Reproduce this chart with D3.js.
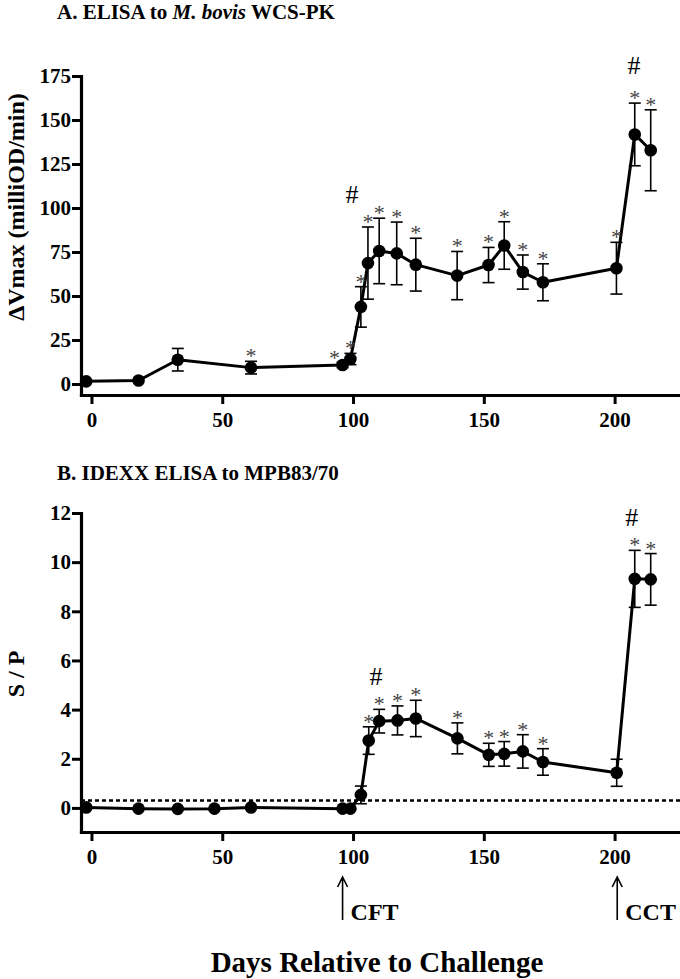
<!DOCTYPE html>
<html>
<head>
<meta charset="utf-8">
<script src="https://cdn.jsdelivr.net/npm/d3@7"></script>
<style>
  body { margin: 0; background: #fff; }
  svg { display: block; font-family: "Liberation Serif", "Times New Roman", serif; }
</style>
</head>
<body>
<div id="chart"></div>
<script>
// days of sampling, panel A (ELISA to M. bovis WCS-PK)
var daysA = [-2, 18, 33, 61, 96, 99, 103, 105.7, 110, 116.7, 124, 139.8, 151.8, 157.8, 164.9, 172.6, 200.7, 207.7, 213.8];
var valuesA = [1.5, 2, 13.8, 9.3, 10.8, 14.2, 43.8, 68.7, 75.6, 74.2, 67.8, 61.6, 67.6, 78.7, 63.6, 57.8, 65.8, 141.8, 132.8];
var errA = [0, 0, 6.4, 3.6, 1.5, 3.2, 11.5, 20.5, 18.6, 17.8, 15, 13.7, 10, 13.5, 9.7, 10.5, 14.7, 17.8, 23];
var starsA = [0, 0, 0, 1, 2, 1, 1, 1, 1, 1, 1, 1, 1, 1, 1, 1, 1, 1, 1]; // 2 = star drawn left of point
var hashA = [{day: 99.6, value: 108}, {day: 207.4, value: 181}];

// panel B (IDEXX ELISA to MPB83/70)
var daysB = [-2, 18, 33, 47, 61, 96, 99, 103, 106, 110, 117, 124, 139.9, 151.9, 157.8, 164.9, 172.6, 200.8, 207.7, 213.8];
var valuesB = [0.02, -0.03, -0.04, -0.03, 0.02, -0.03, -0.03, 0.53, 2.74, 3.53, 3.56, 3.64, 2.83, 2.16, 2.2, 2.3, 1.87, 1.43, 9.32, 9.3];
var errB = [0, 0, 0, 0, 0, 0, 0, 0.36, 0.56, 0.48, 0.59, 0.74, 0.63, 0.47, 0.5, 0.68, 0.54, 0.55, 1.16, 1.05];
var starsB = [0, 0, 0, 0, 0, 0, 0, 0, 1, 1, 1, 1, 1, 1, 1, 1, 1, 0, 1, 1];
var hashB = [{day: 108.8, value: 5.35}, {day: 206.6, value: 11.84}];
var cutoffB = 0.3;

var xTicks = [0, 50, 100, 150, 200];
var yTicksA = [0, 25, 50, 75, 100, 125, 150, 175];
var yTicksB = [0, 2, 4, 6, 8, 10, 12];
var arrows = [{day: 96, label: "CFT"}, {day: 201, label: "CCT"}];

var width = 680, height = 979;

var svg = d3.select("#chart").append("svg")
    .attr("width", width)
    .attr("height", height);

// shared x scale
var x = d3.scaleLinear().domain([-4, 225]).range([81, 680]);

function panel(opts) {
    var y = d3.scaleLinear().domain(opts.yDomain).range(opts.yRange);
    var g = svg.append("g");

    // axes
    var xAxis = g.append("g")
        .attr("transform", "translate(0," + opts.yRange[0] + ")")
        .call(d3.axisBottom(x).tickValues(xTicks).tickSize(9).tickSizeOuter(0).tickPadding(8));
    var yAxis = g.append("g")
        .attr("transform", "translate(" + x.range()[0] + ",0)")
        .call(d3.axisLeft(y).tickValues(opts.yTicks).tickSize(9).tickSizeOuter(0).tickPadding(1));
    [xAxis, yAxis].forEach(function (a) {
        a.select(".domain").attr("stroke-width", 3.2).attr("stroke-linecap", "square");
        a.selectAll(".tick line").attr("stroke-width", 3);
        a.selectAll(".tick text")
            .style("font-family", "Liberation Serif")
            .style("font-size", "21px")
            .style("font-weight", "bold")
            .attr("fill", "#000");
    });

    // dotted cutoff line
    if (opts.cutoff !== undefined) {
        g.append("line")
            .attr("x1", x.range()[0]).attr("x2", x.range()[1])
            .attr("y1", y(opts.cutoff)).attr("y2", y(opts.cutoff))
            .attr("stroke", "#000")
            .attr("stroke-width", 2.5)
            .attr("stroke-dasharray", "4,3");
    }

    var data = opts.days.map(function (d, i) {
        return {day: d, value: opts.values[i], err: opts.err[i], star: opts.stars[i]};
    });

    // error bars
    var eb = g.selectAll("g.err")
        .data(data.filter(function (d) { return d.err > 0; }))
        .enter().append("g")
        .attr("class", "err")
        .attr("stroke", "#000")
        .attr("stroke-width", 1.6);
    eb.append("line")
        .attr("x1", function (d) { return x(d.day); })
        .attr("x2", function (d) { return x(d.day); })
        .attr("y1", function (d) { return y(d.value - d.err); })
        .attr("y2", function (d) { return y(d.value + d.err); });
    eb.append("line")
        .attr("x1", function (d) { return x(d.day) - 6; })
        .attr("x2", function (d) { return x(d.day) + 6; })
        .attr("y1", function (d) { return y(d.value + d.err); })
        .attr("y2", function (d) { return y(d.value + d.err); });
    eb.append("line")
        .attr("x1", function (d) { return x(d.day) - 6; })
        .attr("x2", function (d) { return x(d.day) + 6; })
        .attr("y1", function (d) { return y(d.value - d.err); })
        .attr("y2", function (d) { return y(d.value - d.err); });

    var line = d3.line()
        .x(function (d) { return x(d.day); })
        .y(function (d) { return y(d.value); });

    g.append("path")
        .datum(data)
        .attr("fill", "none")
        .attr("stroke", "#000")
        .attr("stroke-width", 3)
        .attr("stroke-linejoin", "round")
        .attr("d", line);

    g.selectAll("circle")
        .data(data)
        .enter().append("circle")
        .attr("cx", function (d) { return x(d.day); })
        .attr("cy", function (d) { return y(d.value); })
        .attr("r", 6.3)
        .attr("fill", "#000");

    // significance stars
    g.selectAll("text.star")
        .data(data.filter(function (d) { return d.star > 0; }))
        .enter().append("text")
        .attr("class", "star")
        .attr("text-anchor", "middle")
        .attr("x", function (d) { return d.star === 2 ? x(d.day) - 8 : x(d.day); })
        .attr("y", function (d) {
            return d.star === 2 ? y(d.value) + 0 : y(d.value + d.err) + 2;
        })
        .style("font-size", "22px")
        .attr("fill", "#444")
        .text("*");

    g.selectAll("text.hash")
        .data(opts.hash)
        .enter().append("text")
        .attr("class", "hash")
        .attr("text-anchor", "middle")
        .attr("x", function (d) { return x(d.day); })
        .attr("y", function (d) { return y(d.value) + 9; })
        .style("font-size", "26px")
        .attr("fill", "#000")
        .text("#");

    // y axis title
    g.append("text")
        .attr("transform", "translate(24," + opts.labelY + ") rotate(-90)")
        .attr("text-anchor", "middle")
        .style("font-size", "24px")
        .style("font-weight", "bold")
        .text(opts.yLabel);

    return y;
}

var yA = panel({
    yDomain: [-6.25, 175], yRange: [395, 76], yTicks: yTicksA,
    days: daysA, values: valuesA, err: errA, stars: starsA, hash: hashA,
    yLabel: "\u0394Vmax (milliOD/min)", labelY: 207
});

var yB = panel({
    yDomain: [-0.98, 12], yRange: [832, 513], yTicks: yTicksB,
    days: daysB, values: valuesB, err: errB, stars: starsB, hash: hashB,
    cutoff: cutoffB,
    yLabel: "S / P", labelY: 674
});

// panel titles
var tA = svg.append("text")
    .attr("x", 57).attr("y", 19)
    .style("font-size", "21px").style("font-weight", "bold");
tA.append("tspan").text("A. ELISA to ");
tA.append("tspan").style("font-style", "italic").text("M. bovis");
tA.append("tspan").text(" WCS-PK");

svg.append("text")
    .attr("x", 57).attr("y", 480)
    .style("font-size", "21px").style("font-weight", "bold")
    .text("B. IDEXX ELISA to MPB83/70");

// CFT / CCT arrows
var ar = svg.selectAll("g.arrow")
    .data(arrows)
    .enter().append("g")
    .attr("class", "arrow");
ar.append("path")
    .attr("fill", "none")
    .attr("stroke", "#000")
    .attr("stroke-width", 1.6)
    .attr("d", function (d) {
        var px = x(d.day);
        return "M" + px + ",920 L" + px + ",877 M" + (px - 5) + ",887 L" + px + ",877 L" + (px + 5) + ",887";
    });
ar.append("text")
    .attr("x", function (d) { return x(d.day) + 8; })
    .attr("y", 920)
    .style("font-size", "24px")
    .style("font-weight", "bold")
    .text(function (d) { return d.label; });

svg.append("text")
    .attr("x", 377).attr("y", 972)
    .attr("text-anchor", "middle")
    .style("font-size", "29px")
    .style("font-weight", "bold")
    .text("Days Relative to Challenge");
</script>
</body>
</html>
